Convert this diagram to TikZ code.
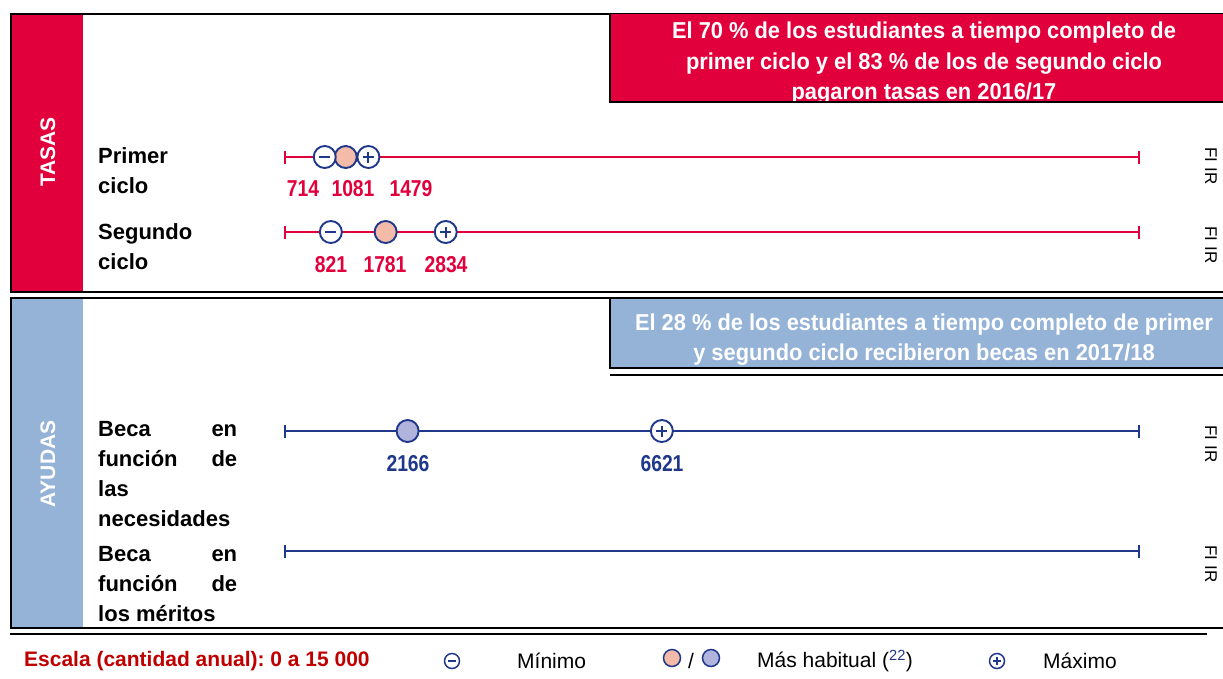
\documentclass[tikz,border=0pt]{standalone}
\usepackage{fontspec}
\setmainfont{Liberation Sans}
\newfontfamily\narrowfont[FakeStretch=0.95]{Liberation Sans}
\newfontfamily\numfont[FakeStretch=0.84]{Liberation Sans}
\usetikzlibrary{arrows.meta}
\definecolor{tasred}{RGB}{226,0,60}
\definecolor{ayublue}{RGB}{149,179,215}
\definecolor{dkblue}{RGB}{31,56,140}
\definecolor{salmon}{RGB}{244,187,168}
\definecolor{lilac}{RGB}{176,180,220}
\definecolor{escred}{RGB}{192,0,0}
\newcommand{\fsz}[2]{\fontsize{#1pt}{#2pt}\selectfont}
\newcommand{\vpos}[1]{284+#1*0.0570667}
\newcommand{\jl}[1]{\makebox[139pt][s]{#1}}
\frenchspacing

\begin{document}
\begin{tikzpicture}[x=1pt,y=-1pt,
  lbl/.style={font=\bfseries\fsz{22}{30},align=left,anchor=north west,inner sep=0pt},
  side/.style={font=\bfseries\fsz{21}{21},text=white,rotate=90,inner sep=0pt},
  banner/.style={font=\narrowfont\bfseries\fsz{23}{30.5},text=white,align=center,inner sep=0pt},
  axisline/.style={line width=2.2pt,{Bar[width=13pt]}-{Bar[width=13pt]}},
  val/.style={font=\numfont\bfseries\fsz{23}{23},inner sep=0pt},
  fi/.style={font=\fsz{17}{16},rotate=-90,inner sep=0pt},
  leg/.style={font=\fsz{21}{22},anchor=west,inner sep=0pt},
  dot/.style={circle,draw=dkblue,line width=1.9pt,minimum size=22pt,inner sep=0pt},
  lo/.style={dot,fill=white,path picture={\draw[dkblue,line width=1.9pt]
    ([xshift=-#1]path picture bounding box.center) -- ([xshift=#1]path picture bounding box.center);}},
  lo/.default=5.5pt,
  hi/.style={dot,fill=white,path picture={\draw[dkblue,line width=1.9pt]
    ([xshift=-#1]path picture bounding box.center) -- ([xshift=#1]path picture bounding box.center)
    ([yshift=-#1]path picture bounding box.center) -- ([yshift=#1]path picture bounding box.center);}},
  hi/.default=5.5pt]
\fill[white] (0,0) rectangle (1223,678);
\useasboundingbox (0,0) rectangle (1223,678);
\clip (0,0) rectangle (1223,678);

\fill[tasred] (12,15) rectangle (83,291);
\draw[line width=2pt] (11,14) rectangle (1230,292);
\node[side] (tasas) at (48,152) {TASAS};
\begin{scope}
\clip (610,14) rectangle (1223,102);
\fill[tasred] (610,14) rectangle (1223,102);
\node[banner] (tnote) at (924,63.5) {El 70 \% de los estudiantes a tiempo completo de\\primer ciclo y el 83 \% de los de segundo ciclo\\pagaron tasas en 2016/17};
\end{scope}
\draw[line width=2pt] (610,14) -- (610,102) -- (1223,102);

\node[lbl] (prim) at (98,147.5) {Primer\\ciclo};
\node[lbl] (seg) at (98,223) {Segundo\\ciclo};
\coordinate (p0) at (284,157);
\coordinate (p1) at (1140,157);
\coordinate (s0) at (284,232);
\coordinate (s1) at (1140,232);
\draw[axisline,tasred] (p0) -- (p1);
\draw[axisline,tasred] (s0) -- (s1);
\node[dot,fill=salmon] (pmod) at ({\vpos{1081}},157) {};
\node[lo] (pmin) at ({\vpos{714}},157) {};
\node[hi] (pmax) at ({\vpos{1479}},157) {};
\node[lo] (smin) at ({\vpos{821}},232) {};
\node[dot,fill=salmon] (smod) at ({\vpos{1781}},232) {};
\node[hi] (smax) at ({\vpos{2834}},232) {};
\node[val,text=tasred] (pv1) at (303,189) {714};
\node[val,text=tasred] (pv2) at (353,189) {1081};
\node[val,text=tasred] (pv3) at (411,189) {1479};
\node[val,text=tasred] (sv1) at (331,265) {821};
\node[val,text=tasred] (sv2) at (385,265) {1781};
\node[val,text=tasred] (sv3) at (446,265) {2834};
\node[fi] (fi1) at (1211,166) {FI IR};
\node[fi] (fi2) at (1211,245) {FI IR};

\fill[ayublue] (12,299) rectangle (83,627);
\draw[line width=2pt] (11,298) rectangle (1230,628);
\node[side] (ayudas) at (48,464) {AYUDAS};
\fill[ayublue] (610,299) rectangle (1223,368);
\draw[line width=2pt] (610,299) -- (610,368) -- (1223,368);
\draw[line width=2pt] (610,375) -- (1223,375);
\node[banner] (anote) at (924,339.5) {El 28 \% de los estudiantes a tiempo completo de primer\\y segundo ciclo recibieron becas en 2017/18};

\node[lbl] (nec) at (98,421.5) {\jl{Beca en}\\\jl{función de}\\las\\necesidades};
\node[lbl] (mer) at (98,546.5) {\jl{Beca en}\\\jl{función de}\\los méritos};
\coordinate (n0) at (284,431);
\coordinate (n1) at (1140,431);
\coordinate (m0) at (284,551);
\coordinate (m1) at (1140,551);
\draw[axisline,dkblue] (n0) -- (n1);
\draw[axisline,dkblue] (m0) -- (m1);
\node[dot,fill=lilac] (nmod) at ({\vpos{2166}},431) {};
\node[hi] (nmax) at ({\vpos{6621}},431) {};
\node[val,text=dkblue] (nv1) at (408,464) {2166};
\node[val,text=dkblue] (nv2) at (662,464) {6621};
\node[fi] (fi3) at (1211,444) {FI IR};
\node[fi] (fi4) at (1211,564) {FI IR};

\draw[line width=2pt] (10,634) -- (1207,634);
\node[leg,font=\bfseries\fsz{21}{22},text=escred] (esc) at (24,661) {Escala (cantidad anual): 0 a 15 000};
\node[lo=4pt,minimum size=15pt,line width=1.5pt] (lmin) at (452,661) {};
\node[leg] (tmin) at (517,661) {Mínimo};
\node[dot,fill=salmon,minimum size=17pt,line width=1.5pt] (lmod1) at (672,658) {};
\node[leg,anchor=center] (slash) at (691,661) {/};
\node[dot,fill=lilac,minimum size=17pt,line width=1.5pt] (lmod2) at (711,658) {};
\node[leg] (tmod) at (757,661) {Más habitual (\textsuperscript{\textcolor{dkblue}{22}})};
\node[hi=4pt,minimum size=15pt,line width=1.5pt] (lmax) at (997,661) {};
\node[leg] (tmax) at (1043,661) {Máximo};
\end{tikzpicture}
\end{document}
